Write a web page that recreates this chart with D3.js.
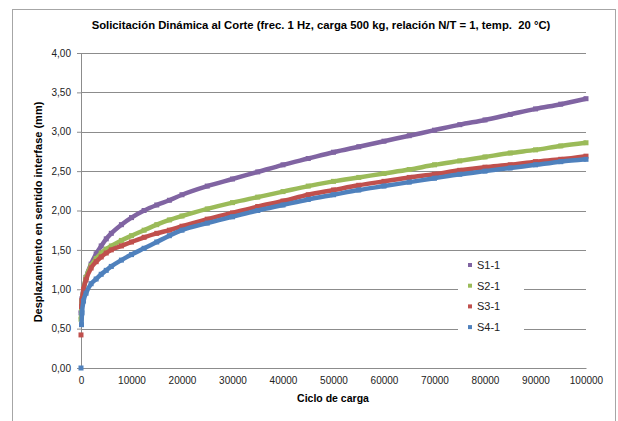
<!DOCTYPE html>
<html>
<head>
<meta charset="utf-8">
<script src="https://cdn.jsdelivr.net/npm/d3@7"></script>
<style>
  body { margin: 0; background: #fff; }
  text { font-family: "Liberation Sans", Arial, sans-serif; }
</style>
</head>
<body>
<div id="chart"></div>
<script>
const cycles = [0, 100, 200, 500, 1000, 2000, 3000, 4000, 5000, 6000, 8000, 10000, 12500, 15000, 17500,
  20000, 25000, 30000, 35000, 40000, 45000, 50000, 55000, 60000, 65000, 70000, 75000, 80000, 85000,
  90000, 95000, 100000];

const s1 = [0.70, 0.80, 0.88, 1.00, 1.15, 1.32, 1.45, 1.55, 1.64, 1.71, 1.82, 1.91, 2.00, 2.07, 2.13,
  2.20, 2.31, 2.40, 2.49, 2.58, 2.66, 2.74, 2.81, 2.88, 2.95, 3.02, 3.09, 3.15, 3.22, 3.29, 3.35, 3.42];
const s2 = [0.62, 0.75, 0.85, 1.00, 1.15, 1.30, 1.39, 1.46, 1.51, 1.55, 1.62, 1.68, 1.75, 1.82, 1.88,
  1.93, 2.02, 2.10, 2.17, 2.24, 2.31, 2.37, 2.42, 2.47, 2.52, 2.58, 2.63, 2.68, 2.73, 2.77, 2.82, 2.86];
const s3 = [0.42, 0.78, 0.86, 1.00, 1.12, 1.27, 1.35, 1.41, 1.46, 1.50, 1.55, 1.60, 1.66, 1.71, 1.75,
  1.80, 1.89, 1.97, 2.05, 2.12, 2.20, 2.26, 2.32, 2.37, 2.42, 2.46, 2.51, 2.55, 2.58, 2.62, 2.65, 2.69];
const s4 = [0.00, 0.55, 0.70, 0.85, 0.95, 1.07, 1.13, 1.19, 1.24, 1.29, 1.37, 1.44, 1.52, 1.60, 1.68,
  1.75, 1.84, 1.92, 2.00, 2.07, 2.14, 2.20, 2.26, 2.31, 2.36, 2.41, 2.46, 2.50, 2.54, 2.58, 2.62, 2.65];

const seriesNames = ["S1-1", "S2-1", "S3-1", "S4-1"];
const seriesColors = ["#8064A2", "#9BBB59", "#C0504D", "#4F81BD"];
const seriesValues = [s1, s2, s3, s4];

const xTicks = [0, 10000, 20000, 30000, 40000, 50000, 60000, 70000, 80000, 90000, 100000];
const yTicks = [0, 0.5, 1, 1.5, 2, 2.5, 3, 3.5, 4];

const W = 618, H = 421;
const margin = { top: 53, right: 32, bottom: 53, left: 81 };
const width = W - margin.left - margin.right;
const height = H - margin.top - margin.bottom;

const root = d3.select("#chart").append("svg").attr("width", W).attr("height", H);

// outer chart frame
root.append("rect")
  .attr("x", 12.5).attr("y", 9.5).attr("width", 603).attr("height", 430)
  .attr("fill", "#fff").attr("stroke", "#a6a6a6").attr("stroke-width", 1);

root.append("text")
  .attr("x", 321).attr("y", 29)
  .attr("text-anchor", "middle")
  .attr("font-size", "11.3px").attr("font-weight", "bold")
  .text("Solicitación Dinámica al Corte (frec. 1 Hz, carga 500 kg, relación N/T = 1, temp.\u00a0 20 °C)");

const svg = root.append("g").attr("transform", `translate(${margin.left},${margin.top})`);

const x = d3.scaleLinear().domain([0, 100000]).range([0, width]);
const y = d3.scaleLinear().domain([0, 4]).range([height, 0]);

// gridlines
svg.selectAll(".grid")
  .data(yTicks.slice(1))
  .enter()
  .append("line")
  .attr("x1", 0).attr("x2", width)
  .attr("y1", (d) => Math.round(y(d)) + 0.5).attr("y2", (d) => Math.round(y(d)) + 0.5)
  .attr("stroke", "#8c8c8c").attr("stroke-width", 1);

const xAxis = svg.append("g")
  .attr("transform", `translate(0,${height})`)
  .call(d3.axisBottom(x).tickValues(xTicks).tickSize(0).tickPadding(9).tickFormat(d3.format("d")));
xAxis.select(".domain").attr("stroke", "#8c8c8c");
xAxis.selectAll("text").attr("font-size", "10px").attr("fill", "#222")
  .attr("font-family", "Liberation Sans, Arial, sans-serif");

const yAxis = svg.append("g")
  .call(d3.axisLeft(y).tickValues(yTicks).tickSize(4).tickPadding(6)
    .tickFormat((d) => d.toFixed(2).replace(".", ",")));
yAxis.select(".domain").attr("stroke", "#8c8c8c");
yAxis.selectAll("line").attr("stroke", "#8c8c8c");
yAxis.selectAll("text").attr("font-size", "10px").attr("fill", "#222")
  .attr("font-family", "Liberation Sans, Arial, sans-serif");

const line = d3.line()
  .x((d) => x(d[0]))
  .y((d) => y(d[1]))
  .curve(d3.curveMonotoneX);

seriesValues.forEach((vals, i) => {
  const pts = cycles.map((c, j) => [c, vals[j]]);
  const start = i === 2 || i === 3 ? 1 : 0;
  svg.append("path")
    .datum(pts.slice(start))
    .attr("fill", "none")
    .attr("stroke", seriesColors[i])
    .attr("stroke-width", 4.5)
    .attr("d", line);
  svg.selectAll(".m" + i)
    .data(pts)
    .enter()
    .append("rect")
    .attr("x", (d) => x(d[0]) - 2.5)
    .attr("y", (d) => y(d[1]) - 2.5)
    .attr("width", 5).attr("height", 5)
    .attr("fill", seriesColors[i]);
});

// legend
const legend = root.append("g").attr("transform", "translate(458,255)");
legend.append("rect")
  .attr("x", 0).attr("y", 0).attr("width", 66).attr("height", 82)
  .attr("fill", "#fff");
seriesNames.forEach((name, i) => {
  const g = legend.append("g").attr("transform", `translate(0,${10 + i * 20.7})`);
  g.append("rect").attr("x", 10).attr("y", -2).attr("width", 4).attr("height", 4)
    .attr("fill", seriesColors[i]);
  g.append("text").attr("x", 19).attr("y", 4)
    .attr("font-size", "11px").attr("fill", "#222").text(name);
});

root.append("text")
  .attr("x", 333).attr("y", 402)
  .attr("text-anchor", "middle")
  .attr("font-size", "10.5px").attr("font-weight", "bold")
  .text("Ciclo de carga");

root.append("text")
  .attr("transform", "rotate(-90)")
  .attr("x", -212).attr("y", 42)
  .attr("text-anchor", "middle")
  .attr("font-size", "11px").attr("font-weight", "bold")
  .text("Desplazamiento en sentido interfase (mm)");
</script>
</body>
</html>
